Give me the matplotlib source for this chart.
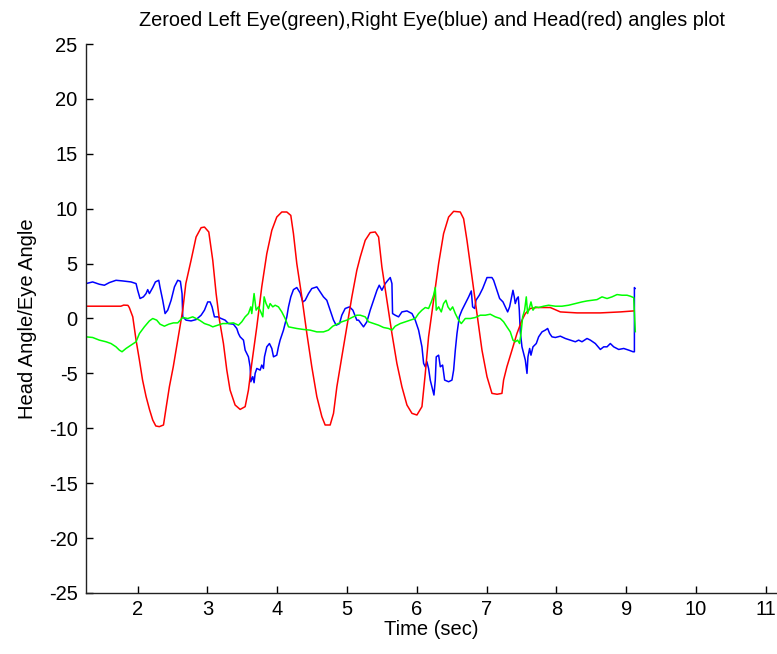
import matplotlib
matplotlib.use("Agg")
import matplotlib.pyplot as plt

# Head angle (red)
head_t = [1.26, 1.50, 1.76, 1.80, 1.86, 1.88, 1.93, 1.977, 2.025, 2.07, 2.12, 2.17, 2.216, 2.26,
          2.31, 2.37, 2.41, 2.455, 2.51, 2.574, 2.646, 2.69, 2.765, 2.837, 2.909, 2.957, 3.019,
          3.076, 3.124, 3.172, 3.229, 3.277, 3.324, 3.396, 3.468, 3.54, 3.587, 3.635, 3.707,
          3.778, 3.85, 3.922, 3.993, 4.065, 4.137, 4.194, 4.232, 4.28, 4.352, 4.424, 4.495,
          4.567, 4.639, 4.686, 4.758, 4.806, 4.854, 4.925, 4.997, 5.069, 5.14, 5.189, 5.26,
          5.332, 5.404, 5.452, 5.499, 5.571, 5.643, 5.714, 5.786, 5.858, 5.93, 6.001, 6.073,
          6.121, 6.168, 6.24, 6.312, 6.383, 6.455, 6.527, 6.622, 6.67, 6.718, 6.79, 6.861,
          6.933, 7.005, 7.076, 7.15, 7.219, 7.243, 7.29, 7.363, 7.434, 7.506, 7.554, 7.625,
          7.721, 7.912, 8.056, 8.295, 8.629, 8.916, 9.107]
head_v = [1.12, 1.12, 1.12, 1.22, 1.2, 1.0, 0.15, -1.97, -3.79, -5.6, -7.1, -8.3, -9.25, -9.79,
          -9.85, -9.7, -8.03, -6.2, -4.4, -1.97, 0.76, 3.18, 5.3, 7.42, 8.27, 8.33, 7.88,
          5.3, 2.27, -0.15, -2.28, -4.7, -6.52, -7.88, -8.28, -8.03, -6.52, -4.09, -0.76,
          2.88, 5.9, 8.03, 9.24, 9.7, 9.7, 9.39, 7.73, 5.0, 1.97, -1.37, -4.4,
          -7.12, -8.94, -9.7, -9.7, -8.64, -6.22, -3.49, -0.76, 1.97, 4.39, 5.6, 7.12,
          7.82, 7.88, 7.42, 4.7, 1.66, -1.37, -4.09, -6.22, -7.88, -8.64, -8.79, -8.03,
          -5.0, -1.67, 1.66, 5.0, 7.73, 9.24, 9.76, 9.7, 9.09, 7.12, 3.79, 0.45,
          -2.88, -5.3, -6.82, -6.9, -6.82, -5.6, -4.4, -2.88, -1.37, -0.15, 0.45, 0.91,
          1.0, 1.0, 0.6, 0.51, 0.51, 0.6, 0.69]

# Right eye angle (blue)
right_t = [1.26, 1.355, 1.451, 1.523, 1.594, 1.69, 1.786, 1.905, 1.977, 2.0, 2.034, 2.082, 2.12,
           2.144, 2.168, 2.216, 2.254, 2.302, 2.321, 2.359, 2.393, 2.431, 2.479, 2.527, 2.574,
           2.612, 2.636, 2.646, 2.694, 2.765, 2.837, 2.909, 2.957, 3.004, 3.038, 3.066, 3.1,
           3.148, 3.196, 3.253, 3.3, 3.372, 3.42, 3.444, 3.468, 3.516, 3.54, 3.587, 3.611,
           3.621, 3.649, 3.668, 3.683, 3.707, 3.755, 3.778, 3.802, 3.817, 3.85, 3.888, 3.922,
           3.946, 3.993, 4.017, 4.041, 4.089, 4.137, 4.161, 4.194, 4.232, 4.28, 4.328, 4.366,
           4.4, 4.448, 4.495, 4.567, 4.615, 4.662, 4.71, 4.758, 4.806, 4.844, 4.892, 4.925,
           4.973, 5.035, 5.083, 5.14, 5.165, 5.236, 5.284, 5.332, 5.38, 5.428, 5.461, 5.499,
           5.547, 5.585, 5.619, 5.643, 5.652, 5.69, 5.738, 5.786, 5.858, 5.93, 5.977, 6.025,
           6.073, 6.097, 6.121, 6.144, 6.168, 6.192, 6.216, 6.245, 6.264, 6.278, 6.312, 6.336,
           6.369, 6.398, 6.455, 6.503, 6.527, 6.551, 6.575, 6.608, 6.646, 6.694, 6.742, 6.78,
           6.799, 6.828, 6.847, 6.895, 6.943, 7.005, 7.076, 7.1, 7.148, 7.186, 7.234, 7.267,
           7.301, 7.329, 7.348, 7.377, 7.396, 7.41, 7.434, 7.453, 7.468, 7.482, 7.506, 7.53,
           7.554, 7.578, 7.592, 7.616, 7.635, 7.664, 7.711, 7.745, 7.793, 7.84, 7.874, 7.903,
           7.936, 7.984, 8.056, 8.127, 8.199, 8.271, 8.318, 8.366, 8.438, 8.486, 8.557, 8.629,
           8.677, 8.725, 8.772, 8.82, 8.892, 8.964, 9.035, 9.098, 9.117, 9.117, 9.125]
right_v = [3.18, 3.33, 3.12, 3.03, 3.27, 3.48, 3.42, 3.33, 3.18, 2.57, 1.82, 1.97, 2.27,
           2.63, 2.27, 2.82, 3.33, 3.48, 2.82, 1.66, 0.45, 0.76, 1.66, 2.88, 3.48,
           3.39, 2.27, 0.15, -0.15, -0.22, -0.1, 0.3, 0.76, 1.51, 1.51, 1.06, 0.15,
           0.15, 0.0, -0.15, -0.46, -0.52, -0.91, -1.37, -1.67, -1.97, -2.88, -3.49, -4.4,
           -5.76, -5.3, -5.85, -5.0, -4.55, -4.7, -4.24, -4.55, -3.49, -2.58, -2.28, -2.73,
           -3.49, -3.34, -2.58, -1.97, -1.06, 0.15, 1.06, 1.97, 2.63, 2.82, 2.33, 1.51,
           1.66, 2.27, 2.73, 2.88, 2.42, 1.97, 1.66, 0.76, -0.15, -0.61, -0.46, 0.3,
           0.91, 1.06, 0.76, -0.15, -0.15, -0.76, -0.3, 0.76, 1.66, 2.57, 3.03, 2.57,
           3.18, 3.48, 3.73, 3.18, 0.45, 0.3, 0.15, 0.6, 0.69, 0.45, -0.15, -1.06,
           -2.58, -4.09, -4.4, -3.94, -4.55, -5.61, -6.22, -6.97, -5.61, -3.49, -3.34, -4.4,
           -4.24, -5.61, -5.76, -5.61, -4.7, -2.88, -1.37, 0.15, 0.76, 1.36, 1.97, 2.51,
           1.06, 0.91, 1.66, 2.12, 2.73, 3.73, 3.73, 3.48, 2.57, 1.82, 1.51, 1.06,
           0.6, 1.06, 1.66, 2.57, 1.97, 1.36, 1.82, 1.97, 0.76, -1.22, -2.58, -3.19,
           -3.79, -5.0, -3.49, -2.73, -3.34, -2.58, -2.28, -1.67, -1.22, -1.06, -0.91, -1.37,
           -1.67, -1.73, -1.61, -1.82, -1.97, -2.12, -1.97, -2.12, -1.82, -1.97, -2.28, -2.82,
           -2.58, -2.58, -2.28, -2.58, -2.82, -2.73, -2.88, -3.03, -3.03, 2.82, 2.73]

# Left eye angle (green)
left_t = [1.26, 1.355, 1.451, 1.547, 1.618, 1.69, 1.738, 1.776, 1.833, 1.905, 1.977, 2.025,
          2.096, 2.168, 2.216, 2.273, 2.321, 2.383, 2.445, 2.512, 2.574, 2.646, 2.718, 2.789,
          2.885, 2.957, 3.028, 3.076, 3.148, 3.219, 3.277, 3.372, 3.444, 3.492, 3.54, 3.587,
          3.621, 3.635, 3.668, 3.697, 3.73, 3.764, 3.793, 3.812, 3.84, 3.874, 3.898, 3.936,
          3.97, 4.017, 4.065, 4.113, 4.161, 4.208, 4.28, 4.376, 4.471, 4.567, 4.662, 4.734,
          4.796, 4.854, 4.925, 4.997, 5.069, 5.14, 5.189, 5.26, 5.308, 5.38, 5.452, 5.523,
          5.595, 5.643, 5.69, 5.762, 5.834, 5.906, 5.977, 6.025, 6.073, 6.121, 6.168, 6.207,
          6.24, 6.264, 6.278, 6.312, 6.35, 6.383, 6.417, 6.446, 6.479, 6.513, 6.551, 6.598,
          6.637, 6.694, 6.766, 6.837, 6.909, 6.981, 7.052, 7.124, 7.195, 7.243, 7.29, 7.339,
          7.377, 7.41, 7.443, 7.472, 7.492, 7.516, 7.544, 7.568, 7.587, 7.616, 7.635, 7.664,
          7.697, 7.745, 7.817, 7.888, 7.984, 8.079, 8.175, 8.271, 8.366, 8.438, 8.51, 8.581,
          8.653, 8.725, 8.796, 8.868, 8.94, 9.011, 9.059, 9.107, 9.13]
left_v = [-1.67, -1.73, -1.97, -2.12, -2.28, -2.58, -2.88, -3.03, -2.73, -2.43, -2.12, -1.37,
          -0.76, -0.22, 0.0, -0.15, -0.52, -0.7, -0.52, -0.4, -0.4, 0.09, 0.0, 0.15,
          -0.15, -0.46, -0.61, -0.76, -0.61, -0.46, -0.46, -0.4, -0.61, -0.3, 0.15, 0.45,
          1.06, 0.45, 2.27, 0.76, 1.06, 0.6, 0.15, 1.97, 1.36, 0.91, 1.36, 1.06,
          1.21, 1.06, 0.6, 0.0, -0.76, -0.82, -0.91, -1.0, -1.06, -1.22, -1.22, -1.06,
          -0.7, -0.52, -0.3, -0.15, 0.09, 0.3, 0.3, 0.15, -0.3, -0.46, -0.61, -0.82,
          -0.91, -1.06, -0.7, -0.46, -0.3, -0.15, 0.0, 0.45, 0.76, 1.0, 0.91, 1.51,
          2.12, 2.82, 0.76, 1.06, 0.6, 1.36, 1.66, 1.06, 0.76, 1.06, 0.45, -0.15,
          -0.46, 0.0, 0.0, 0.09, 0.3, 0.3, 0.39, 0.15, 0.0, -0.3, -0.76, -1.22,
          -1.97, -2.12, -1.97, -2.28, -1.37, 0.15, 0.76, 1.97, 0.45, 1.06, 1.51, 0.76,
          1.06, 1.0, 1.12, 1.21, 1.12, 1.12, 1.21, 1.36, 1.51, 1.6, 1.66, 1.72,
          1.97, 1.82, 1.97, 2.18, 2.12, 2.12, 2.03, 1.9, -1.2]

x_ticks = [2, 3, 4, 5, 6, 7, 8, 9, 10, 11]
y_ticks = [-25, -20, -15, -10, -5, 0, 5, 10, 15, 20, 25]

plt.rcParams['font.family'] = ['Liberation Sans', 'DejaVu Sans']
plt.rcParams['axes.unicode_minus'] = False

fig = plt.figure(figsize=(7.77, 6.54), dpi=100)
ax = fig.add_axes([0.1107, 0.0933, 0.8893, 0.8394])

ax.plot(right_t, right_v, color='#0000ff', linewidth=1.1)
ax.plot(head_t, head_v, color='#ff0000', linewidth=1.1)
ax.plot(left_t, left_v, color='#00ff00', linewidth=1.1)

ax.set_xlim(1.26, 11.16)
ax.set_ylim(-25, 25)
ax.set_xticks(x_ticks)
ax.set_yticks(y_ticks)
ax.tick_params(direction='in', length=5, width=1, labelsize=14.5)
ax.tick_params(axis='y', pad=6)
ax.tick_params(axis='x', pad=5)
for side in ['top', 'right']:
    ax.spines[side].set_visible(False)
for side in ['left', 'bottom']:
    ax.spines[side].set_linewidth(1.0)
    ax.spines[side].set_color('#222222')

ax.set_title('Zeroed Left Eye(green),Right Eye(blue) and Head(red) angles plot',
             fontsize=14.3, pad=13)
ax.set_xlabel('Time (sec)', fontsize=14.5, labelpad=1)
ax.set_ylabel('Head Angle/Eye Angle', fontsize=14.5, labelpad=8.5)

fig.savefig("out.png", dpi=100)
